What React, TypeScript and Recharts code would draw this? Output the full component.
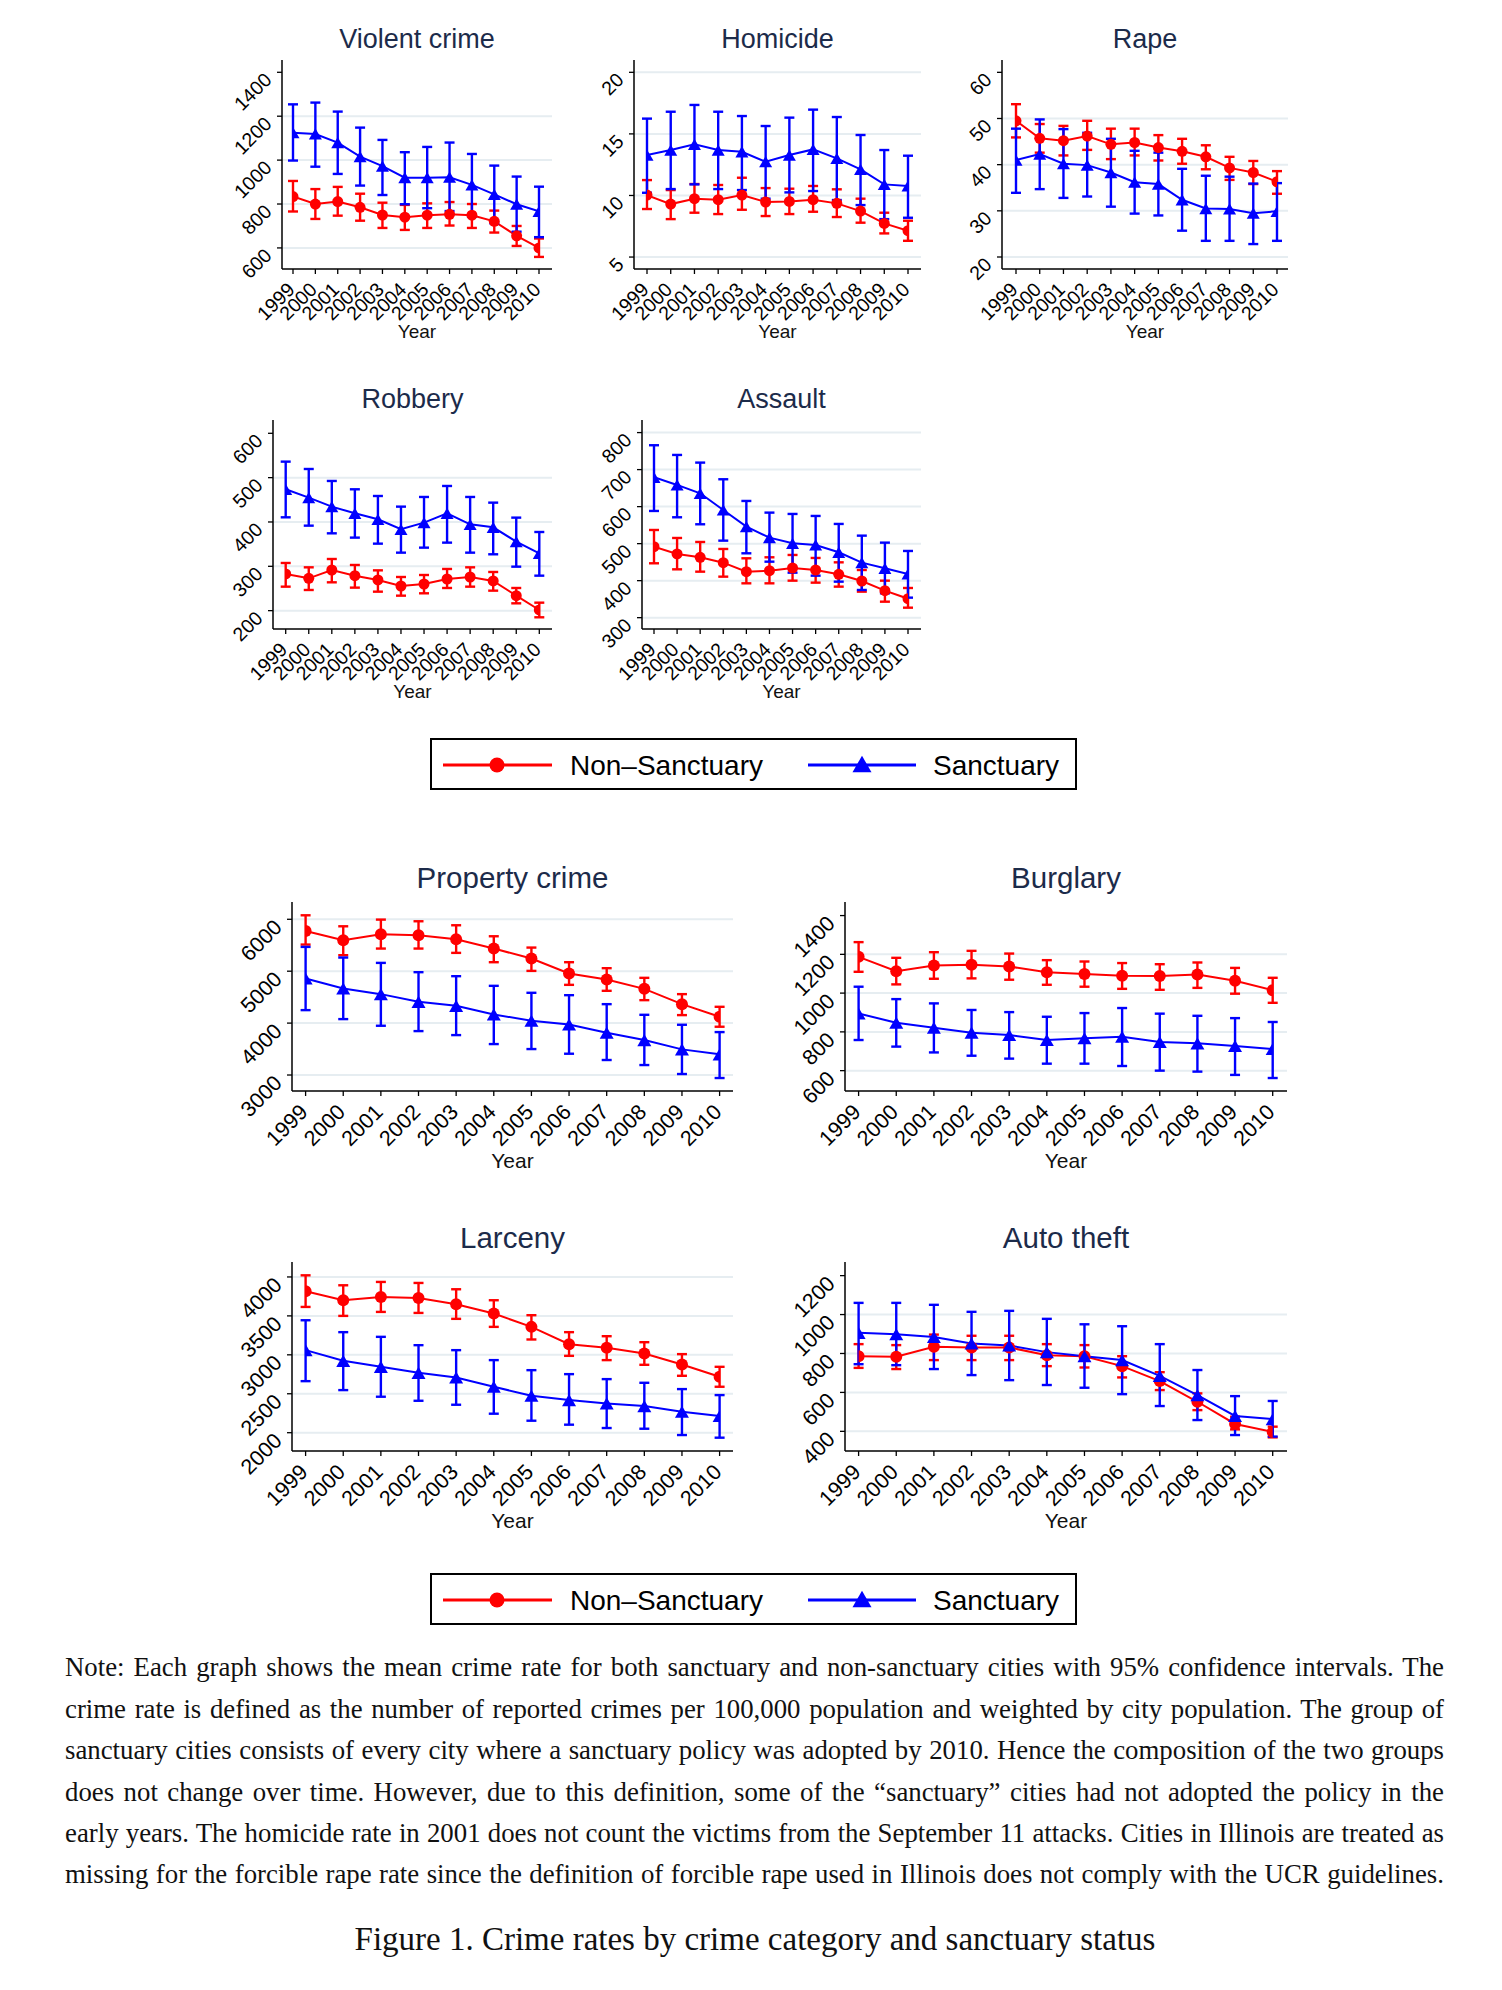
import React from 'react';
import { LineChart, Line, XAxis, YAxis, CartesianGrid, ErrorBar } from 'recharts';

const years = [1999, 2000, 2001, 2002, 2003, 2004, 2005, 2006, 2007, 2008, 2009, 2010];

// Violent crime
const vcNsMean = [834, 800, 811, 785, 750, 740, 749, 753, 749, 721, 655, 600];
const vcNsLo = [766, 732, 747, 724, 691, 682, 691, 702, 691, 670, 609, 559];
const vcNsHi = [905, 868, 878, 847, 806, 796, 803, 809, 800, 770, 700, 643];
const vcSMean = [1125, 1119, 1080, 1016, 973, 920, 920, 922, 887, 844, 799, 767];
const vcSLo = [998, 970, 937, 884, 841, 799, 781, 768, 743, 712, 674, 649];
const vcSHi = [1254, 1262, 1221, 1148, 1092, 1036, 1060, 1080, 1028, 975, 925, 879];
const vcTicks = [600, 800, 1000, 1200, 1400];

// Homicide
const hoNsMean = [10.03, 9.3, 9.74, 9.66, 10.03, 9.47, 9.52, 9.66, 9.36, 8.73, 7.73, 7.14];
const hoNsLo = [8.9, 8.08, 8.6, 8.49, 8.84, 8.33, 8.49, 8.68, 8.25, 7.79, 6.92, 6.32];
const hoNsHi = [11.25, 10.44, 10.93, 10.85, 11.44, 10.6, 10.55, 10.77, 10.5, 9.74, 8.6, 7.95];
const hoSMean = [13.28, 13.69, 14.15, 13.69, 13.55, 12.74, 13.28, 13.74, 13.01, 12.12, 10.9, 10.77];
const hoSLo = [10.22, 10.52, 10.9, 10.52, 10.44, 9.74, 10.25, 10.36, 9.63, 9.22, 8.08, 8.19];
const hoSHi = [16.24, 16.8, 17.35, 16.8, 16.45, 15.64, 16.32, 16.97, 16.37, 14.91, 13.69, 13.23];
const hoTicks = [5, 10, 15, 20];

// Rape
const rpNsMean = [49.5, 45.7, 45.2, 46.2, 44.4, 44.8, 43.7, 42.9, 41.7, 39.3, 38.3, 36.3];
const rpNsLo = [45.9, 42.6, 42.0, 43.2, 41.2, 42.0, 40.9, 40.2, 39.0, 36.7, 35.8, 33.7];
const rpNsHi = [53.1, 48.8, 48.4, 49.5, 47.8, 47.8, 46.4, 45.6, 44.2, 41.7, 40.8, 38.6];
const rpSMean = [41.0, 42.3, 40.2, 39.9, 38.3, 36.2, 35.8, 32.4, 30.5, 30.4, 29.5, 29.9];
const rpSLo = [33.9, 34.7, 32.8, 33.1, 30.9, 29.4, 29.0, 25.7, 23.5, 23.5, 22.8, 23.5];
const rpSHi = [47.8, 49.8, 47.7, 46.9, 45.6, 43.0, 42.6, 39.1, 37.6, 37.4, 35.9, 36.0];
const rpTicks = [20, 30, 40, 50, 60];

// Robbery
const rbNsMean = [282.7, 272.9, 291.7, 278.9, 269.2, 255.6, 260.1, 271.4, 275.9, 266.9, 233.8, 201.5];
const rbNsLo = [254.1, 246.6, 263.9, 251.9, 242.8, 233.8, 239.1, 251.1, 254.1, 245.1, 216.5, 185.0];
const rbNsHi = [307.5, 297.7, 316.5, 303.0, 290.9, 275.9, 280.4, 294.0, 297.7, 287.2, 251.1, 218.0];
const rbSMean = [473.7, 454.9, 434.6, 419.5, 406.0, 383.5, 398.5, 419.5, 394.7, 388.0, 355.6, 329.3];
const rbSLo = [410.5, 391.7, 374.4, 364.7, 351.1, 330.8, 342.1, 353.4, 330.8, 327.1, 299.2, 278.9];
const rbSHi = [536.1, 519.5, 492.5, 473.7, 458.6, 434.6, 456.4, 481.2, 456.4, 443.6, 409.8, 377.4];
const rbTicks = [200, 300, 400, 500, 600];

// Assault
const asNsMean = [491.9, 472.1, 463.1, 448.6, 424.3, 427.0, 434.2, 428.8, 417.1, 399.1, 372.9, 351.3];
const asNsLo = [446.9, 430.6, 424.3, 410.8, 392.8, 392.8, 400.0, 394.6, 383.8, 370.3, 343.2, 327.0];
const asNsHi = [536.9, 515.3, 504.5, 485.6, 460.4, 463.1, 469.4, 461.3, 449.5, 428.8, 400.0, 380.2];
const asSMean = [679.3, 658.6, 636.0, 591.0, 545.9, 516.2, 500.9, 496.4, 476.6, 448.6, 433.3, 418.0];
const asSLo = [588.3, 571.2, 552.3, 508.1, 473.9, 451.3, 421.6, 413.5, 397.3, 374.8, 365.8, 354.1];
const asSHi = [765.8, 739.6, 718.9, 673.9, 615.3, 583.8, 580.2, 574.8, 553.2, 521.6, 502.7, 480.2];
const asTicks = [300, 400, 500, 600, 700, 800];

// Property crime
const prNsMean = [5776, 5596, 5712, 5692, 5615, 5436, 5244, 4955, 4840, 4660, 4365, 4122];
const prNsLo = [5513, 5308, 5436, 5436, 5353, 5173, 5006, 4737, 4622, 4442, 4154, 3930];
const prNsHi = [6077, 5865, 5994, 5962, 5885, 5673, 5455, 5173, 5058, 4872, 4558, 4314];
const prSMean = [4859, 4667, 4558, 4410, 4333, 4167, 4045, 3974, 3814, 3673, 3494, 3398];
const prSLo = [4250, 4077, 3949, 3846, 3769, 3596, 3500, 3410, 3289, 3192, 3019, 2942];
const prSHi = [5468, 5263, 5160, 4981, 4904, 4718, 4584, 4538, 4365, 4160, 3968, 3827];
const prTicks = [3000, 4000, 5000, 6000];

// Burglary
const bgNsMean = [1187, 1113, 1142, 1146, 1137, 1108, 1098, 1089, 1088, 1096, 1064, 1015];
const bgNsLo = [1110, 1045, 1074, 1076, 1069, 1043, 1033, 1022, 1017, 1027, 997, 950];
const bgNsHi = [1263, 1182, 1211, 1218, 1204, 1170, 1163, 1155, 1149, 1158, 1130, 1079];
const bgSMean = [895, 847, 821, 796, 784, 758, 767, 775, 748, 741, 727, 712];
const bgSLo = [758, 724, 694, 677, 662, 636, 636, 624, 600, 595, 578, 562];
const bgSHi = [1033, 969, 947, 913, 902, 878, 897, 923, 894, 883, 871, 851];
const bgTicks = [600, 800, 1000, 1200, 1400];

// Larceny
const lcNsMean = [3816, 3701, 3744, 3731, 3650, 3530, 3359, 3137, 3090, 3017, 2876, 2718];
const lcNsLo = [3615, 3500, 3551, 3538, 3462, 3359, 3197, 2987, 2932, 2872, 2731, 2590];
const lcNsHi = [4021, 3893, 3936, 3923, 3842, 3701, 3509, 3291, 3239, 3162, 3009, 2846];
const lcSMean = [3060, 2923, 2846, 2769, 2709, 2590, 2474, 2419, 2376, 2342, 2269, 2214];
const lcSLo = [2662, 2547, 2462, 2410, 2359, 2244, 2154, 2103, 2060, 2051, 1970, 1936];
const lcSHi = [3444, 3291, 3231, 3124, 3060, 2932, 2803, 2752, 2688, 2641, 2560, 2483];
const lcTicks = [2000, 2500, 3000, 3500, 4000];

// Auto theft
const atNsMean = [786, 783, 834, 831, 831, 791, 786, 735, 658, 552, 438, 397];
const atNsLo = [726, 720, 766, 766, 766, 735, 728, 677, 612, 509, 410, 369];
const atNsHi = [848, 843, 897, 891, 891, 848, 843, 786, 704, 595, 475, 424];
const atSMean = [906, 899, 885, 851, 841, 807, 786, 766, 685, 586, 479, 463];
const atSLo = [745, 740, 720, 689, 663, 638, 624, 591, 530, 458, 381, 373];
const atSHi = [1060, 1060, 1050, 1014, 1019, 978, 950, 940, 848, 715, 581, 556];
const atTicks = [400, 600, 800, 1000, 1200];

const seriesNames = ['Non\u2013Sanctuary', 'Sanctuary'];

const noteLines = [
  'Note: Each graph shows the mean crime rate for both sanctuary and non-sanctuary cities with 95% confidence intervals. The',
  'crime rate is defined as the number of reported crimes per 100,000 population and weighted by city population. The group of',
  'sanctuary cities consists of every city where a sanctuary policy was adopted by 2010. Hence the composition of the two groups',
  'does not change over time. However, due to this definition, some of the \u201csanctuary\u201d cities had not adopted the policy in the',
  'early years. The homicide rate in 2001 does not count the victims from the September 11 attacks. Cities in Illinois are treated as',
  'missing for the forcible rape rate since the definition of forcible rape used in Illinois does not comply with the UCR guidelines.',
];
const caption = 'Figure 1. Crime rates by crime category and sanctuary status';

const RED = '#ff0000';
const BLUE = '#0000ff';
const GRID = '#e6edf1';
const TITLE = '#1c2b4a';
const FONT = '"Liberation Sans", Arial, Helvetica, sans-serif';
const SERIF = '"Liberation Serif", "Times New Roman", serif';

type PanelCfg = {
  title: string;
  ns: number[][];
  s: number[][];
  ticks: number[];
  grid: number[];
  domain: [number, number];
  L: number; R: number; T: number; B: number;
  padL: number; padR: number;
  titleBase: number; yearBase: number;
  big: boolean;
};

const panels: PanelCfg[] = [
  { title: 'Violent crime', ns: [vcNsMean, vcNsLo, vcNsHi], s: [vcSMean, vcSLo, vcSHi], ticks: vcTicks, grid: [600, 800, 1000, 1200], domain: [504, 1456], L: 282, R: 552, T: 60, B: 269, padL: 11, padR: 13, titleBase: 49, yearBase: 338, big: false },
  { title: 'Homicide', ns: [hoNsMean, hoNsLo, hoNsHi], s: [hoSMean, hoSLo, hoSHi], ticks: hoTicks, grid: [5, 10, 15, 20], domain: [4.03, 21.0], L: 634, R: 921, T: 60, B: 269, padL: 13, padR: 13, titleBase: 49, yearBase: 338, big: false },
  { title: 'Rape', ns: [rpNsMean, rpNsLo, rpNsHi], s: [rpSMean, rpSLo, rpSHi], ticks: rpTicks, grid: [20, 30, 40, 50], domain: [17.4, 62.67], L: 1002, R: 1288, T: 60, B: 269, padL: 14, padR: 11, titleBase: 49, yearBase: 338, big: false },
  { title: 'Robbery', ns: [rbNsMean, rbNsLo, rbNsHi], s: [rbSMean, rbSLo, rbSHi], ticks: rbTicks, grid: [200, 300, 400, 500], domain: [158.6, 630], L: 273, R: 552, T: 420, B: 629, padL: 12.7, padR: 12.7, titleBase: 409, yearBase: 698, big: false },
  { title: 'Assault', ns: [asNsMean, asNsLo, asNsHi], s: [asSMean, asSLo, asSHi], ticks: asTicks, grid: [300, 400, 500, 600, 700, 800], domain: [269.4, 834], L: 642, R: 921, T: 420, B: 629, padL: 12, padR: 13, titleBase: 409, yearBase: 698, big: false },
  { title: 'Property crime', ns: [prNsMean, prNsLo, prNsHi], s: [prSMean, prSLo, prSHi], ticks: prTicks, grid: [3000, 4000, 5000, 6000], domain: [2692, 6333], L: 292, R: 733, T: 902, B: 1091, padL: 13.6, padR: 13.4, titleBase: 888, yearBase: 1168, big: true },
  { title: 'Burglary', ns: [bgNsMean, bgNsLo, bgNsHi], s: [bgSMean, bgSLo, bgSHi], ticks: bgTicks, grid: [600, 800, 1000, 1200], domain: [495, 1470], L: 845, R: 1287, T: 902, B: 1091, padL: 13.6, padR: 14.3, titleBase: 888, yearBase: 1168, big: true },
  { title: 'Larceny', ns: [lcNsMean, lcNsLo, lcNsHi], s: [lcSMean, lcSLo, lcSHi], ticks: lcTicks, grid: [2000, 2500, 3000, 3500, 4000], domain: [1765, 4192], L: 292, R: 733, T: 1262, B: 1451, padL: 13.6, padR: 13.4, titleBase: 1248, yearBase: 1528, big: true },
  { title: 'Auto theft', ns: [atNsMean, atNsLo, atNsHi], s: [atSMean, atSLo, atSHi], ticks: atTicks, grid: [400, 600, 800, 1000], domain: [299, 1270], L: 845, R: 1287, T: 1262, B: 1451, padL: 13.6, padR: 14.3, titleBase: 1248, yearBase: 1528, big: true },
];

const XTick = (p: any) => {
  const x = p.x - 2;
  const y = p.y + 10;
  return (
    <text x={x} y={y} dy="0.35em" textAnchor="end" transform={`rotate(-45 ${x} ${y})`}
      fontSize={p.fs} fontFamily={FONT} fill="#000">{p.payload.value}</text>
  );
};

const YTick = (p: any) => {
  const x = p.x - 7;
  const y = p.y + 4;
  return (
    <text x={x} y={y} dy="0.35em" textAnchor="end" transform={`rotate(-45 ${x} ${y})`}
      fontSize={p.fs} fontFamily={FONT} fill="#000">{p.payload.value}</text>
  );
};

const triPath = (cx: number, cy: number, s: number) => {
  const h = s * 0.866;
  return `M${cx},${cy - h / 2} L${cx + s / 2},${cy + h / 2} L${cx - s / 2},${cy + h / 2} Z`;
};

function Panel({ c }: { c: PanelCfg }) {
  const YW = 90, XH = 90, MT = 10, MR = 10;
  const w = c.R - c.L + YW + MR;
  const h = c.B - c.T + MT + XH;
  const data = years.map((yr, i) => ({
    year: yr,
    ns: c.ns[0][i],
    nsErr: [c.ns[0][i] - c.ns[1][i], c.ns[2][i] - c.ns[0][i]],
    s: c.s[0][i],
    sErr: [c.s[0][i] - c.s[1][i], c.s[2][i] - c.s[0][i]],
  }));
  const tickFs = c.big ? 21.5 : 19.5;
  const titleFs = c.big ? 29.5 : 27;
  const yearFs = c.big ? 21 : 19;
  const r = c.big ? 6 : 5.5;
  const ts = c.big ? 14 : 13;
  return (
    <>
      <div style={{ position: 'absolute', left: c.L - YW, top: c.T - MT }}>
        <LineChart width={w} height={h} data={data} margin={{ top: MT, right: MR, bottom: 0, left: 0 }}>
          <CartesianGrid vertical={false} horizontalValues={c.grid} stroke={GRID} strokeWidth={2} />
          <XAxis type="number" dataKey="year" domain={[1999, 2010]} ticks={years} interval={0}
            padding={{ left: c.padL, right: c.padR }} height={XH} tickSize={5} allowDataOverflow
            axisLine={{ stroke: '#000', strokeWidth: 1.5 }} tickLine={{ stroke: '#000', strokeWidth: 1.3 }}
            tick={(p: any) => <XTick {...p} fs={tickFs} />} />
          <YAxis type="number" domain={c.domain} ticks={c.ticks} interval={0} width={YW} tickSize={5} allowDataOverflow
            axisLine={{ stroke: '#000', strokeWidth: 1.5 }} tickLine={{ stroke: '#000', strokeWidth: 1.3 }}
            tick={(p: any) => <YTick {...p} fs={tickFs} />} />
          <Line type="linear" dataKey="ns" name={seriesNames[0]} stroke={RED} strokeWidth={2} isAnimationActive={false}
            activeDot={false}
            dot={(p: any) => <circle key={`n${p.index}`} cx={p.cx} cy={p.cy} r={r} fill={RED} stroke="none" />}>
            <ErrorBar dataKey="nsErr" direction="y" width={5} stroke={RED} strokeWidth={2.4} isAnimationActive={false} />
          </Line>
          <Line type="linear" dataKey="s" name={seriesNames[1]} stroke={BLUE} strokeWidth={2} isAnimationActive={false}
            activeDot={false}
            dot={(p: any) => <path key={`s${p.index}`} d={triPath(p.cx, p.cy, ts)} fill={BLUE} stroke="none" />}>
            <ErrorBar dataKey="sErr" direction="y" width={5} stroke={BLUE} strokeWidth={2.4} isAnimationActive={false} />
          </Line>
        </LineChart>
      </div>
      <div style={{ position: 'absolute', left: c.L, width: c.R - c.L, top: c.titleBase - 0.85 * titleFs, textAlign: 'center', fontFamily: FONT, fontSize: titleFs, lineHeight: `${titleFs}px`, color: TITLE, whiteSpace: 'nowrap' }}>{c.title}</div>
      <div style={{ position: 'absolute', left: c.L, width: c.R - c.L, top: c.yearBase - 0.85 * yearFs, textAlign: 'center', fontFamily: FONT, fontSize: yearFs, lineHeight: `${yearFs}px`, color: '#111', whiteSpace: 'nowrap' }}>Year</div>
    </>
  );
}

function LegendBox({ top }: { top: number }) {
  return (
    <div style={{ position: 'absolute', left: 430, top, width: 647, height: 52 }}>
      <svg width={647} height={52}>
        <rect x={1} y={1} width={645} height={50} fill="#fff" stroke="#000" strokeWidth={2} />
        <line x1={13} x2={122} y1={27} y2={27} stroke={RED} strokeWidth={3} />
        <circle cx={67} cy={27} r={7.5} fill={RED} />
        <text x={140} y={37} fontFamily={FONT} fontSize={28} fill="#000">{seriesNames[0]}</text>
        <line x1={378} x2={486} y1={27} y2={27} stroke={BLUE} strokeWidth={3} />
        <path d={triPath(432, 26, 19)} fill={BLUE} />
        <text x={503} y={37} fontFamily={FONT} fontSize={28} fill="#000">{seriesNames[1]}</text>
      </svg>
    </div>
  );
}

export default function App() {
  const nf = 26.8;
  return (
    <div style={{ position: 'absolute', left: 0, top: 0, width: 1502, height: 1990, background: '#fff', overflow: 'hidden' }}>
      {panels.map((c) => <Panel key={c.title} c={c} />)}
      <LegendBox top={738} />
      <LegendBox top={1573} />
      {noteLines.map((t, i) => (
        <div key={i} style={{ position: 'absolute', left: 65, width: 1379, top: 1677 + i * 41.4 - 0.84 * nf, fontFamily: SERIF, fontSize: nf, lineHeight: `${nf}px`, textAlign: 'justify', textAlignLast: 'justify', color: '#111' }}>{t}</div>
      ))}
      <div style={{ position: 'absolute', left: 0, width: 1510, top: 1951 - 0.84 * 33, textAlign: 'center', fontFamily: SERIF, fontSize: 33, lineHeight: '33px', color: '#111', whiteSpace: 'nowrap' }}>{caption}</div>
    </div>
  );
}
